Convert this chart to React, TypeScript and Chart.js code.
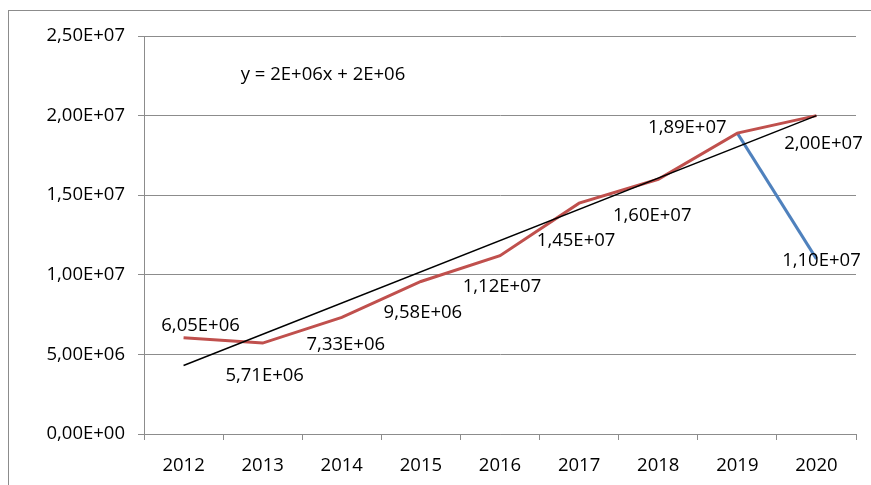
import { useEffect, useRef } from 'react';
import { Chart, registerables } from 'chart.js';

Chart.register(...registerables);

const years = ['2012', '2013', '2014', '2015', '2016', '2017', '2018', '2019', '2020'];
const actual = [6.05e6, 5.71e6, 7.33e6, 9.58e6, 1.12e7, 1.45e7, 1.6e7, 1.89e7, 2.0e7];
const forecast = [null, null, null, null, null, null, null, 1.89e7, 1.1e7];
const trend = [4.3e6, null, null, null, null, null, null, null, 2.0e7];
const equation = 'y = 2E+06x + 2E+06';

const FONT = '"Open Sans", sans-serif';
const FS = 18.5;

function sci(v: number): string {
  if (v === 0) return '0,00E+00';
  const e = Math.floor(Math.log10(Math.abs(v)));
  const m = v / Math.pow(10, e);
  const ms = m.toFixed(2).replace('.', ',');
  const es = (e >= 0 ? '+' : '-') + String(Math.abs(e)).padStart(2, '0');
  return ms + 'E' + es;
}

// label offsets (dx, dy) from point to label centre
const actualLabelOffsets: [number, number][] = [
  [17, -12], [2, 33], [4, 27], [2, 31], [2, 31], [-3, 38], [-6, 36], [-50, -5], [7, 28],
];
const forecastLabelOffset: [number, number] = [5, 2];

const framePlugin = {
  id: 'frame',
  beforeDraw(chart: any) {
    const ctx = chart.ctx;
    ctx.save();
    ctx.fillStyle = '#ffffff';
    ctx.fillRect(0, 0, chart.width, chart.height);
    ctx.strokeStyle = '#8c8c8c';
    ctx.lineWidth = 1;
    ctx.strokeRect(8.5, 10.5, 1000, 1000);
    ctx.restore();
  },
};

const labelPlugin = {
  id: 'dataLabels',
  afterDatasetsDraw(chart: any) {
    const ctx = chart.ctx;
    ctx.save();
    ctx.font = `${FS}px ${FONT}`;
    ctx.fillStyle = '#000000';
    ctx.textAlign = 'center';
    ctx.textBaseline = 'middle';
    const metaA = chart.getDatasetMeta(1);
    metaA.data.forEach((pt: any, i: number) => {
      const v = actual[i];
      if (v == null) return;
      const [dx, dy] = actualLabelOffsets[i];
      ctx.fillText(sci(v), pt.x + dx, pt.y + dy);
    });
    const metaF = chart.getDatasetMeta(2);
    const last = forecast.length - 1;
    const p = metaF.data[last];
    if (p && forecast[last] != null) {
      ctx.fillText(sci(forecast[last] as number), p.x + forecastLabelOffset[0], p.y + forecastLabelOffset[1]);
    }
    // trendline equation
    const ca = chart.chartArea;
    ctx.fillText(equation, ca.left + 179, ca.top + 39);
    ctx.restore();
  },
};

export default function App() {
  const ref = useRef<HTMLCanvasElement | null>(null);
  useEffect(() => {
    if (!ref.current) return;
    const gridColor = '#8c8c8c';
    const chart = new Chart(ref.current, {
      type: 'line',
      data: {
        labels: years,
        datasets: [
          {
            label: 'trend',
            data: trend,
            borderColor: '#000000',
            borderWidth: 1.5,
            pointRadius: 0,
            spanGaps: true,
            fill: false,
          },
          {
            label: 'actual',
            data: actual,
            borderColor: '#C0504D',
            borderWidth: 3,
            pointRadius: 0,
            fill: false,
          },
          {
            label: 'forecast',
            data: forecast,
            borderColor: '#4F81BD',
            borderWidth: 3,
            pointRadius: 0,
            fill: false,
          },
        ],
      },
      options: {
        animation: false,
        responsive: true,
        maintainAspectRatio: false,
        layout: { padding: { left: 0, top: 36, right: 15, bottom: 0 } },
        plugins: {
          legend: { display: false },
          tooltip: { enabled: false },
        },
        scales: {
          x: {
            offset: true,
            grid: {
              offset: true,
              drawOnChartArea: false,
              drawTicks: true,
              tickLength: 6,
              color: gridColor,
            },
            border: { display: true, color: gridColor, width: 1 },
            ticks: {
              color: '#000000',
              font: { family: FONT, size: FS },
              padding: 15,
              maxRotation: 0,
            },
            afterFit(s: any) {
              s.height = 51;
            },
          },
          y: {
            min: 0,
            max: 2.5e7,
            grid: {
              color: gridColor,
              tickLength: 6,
              drawTicks: true,
            },
            border: { display: true, color: gridColor, width: 1 },
            ticks: {
              stepSize: 5e6,
              color: '#000000',
              font: { family: FONT, size: FS },
              padding: 13,
              callback: (v: any) => sci(Number(v)),
            },
            afterFit(s: any) {
              s.width = 144;
            },
          },
        },
      },
      plugins: [framePlugin, labelPlugin],
    });
    return () => chart.destroy();
  }, []);
  return (
    <div style={{ position: 'absolute', left: 0, top: 0, width: 871, height: 485 }}>
      <canvas ref={ref} />
    </div>
  );
}
